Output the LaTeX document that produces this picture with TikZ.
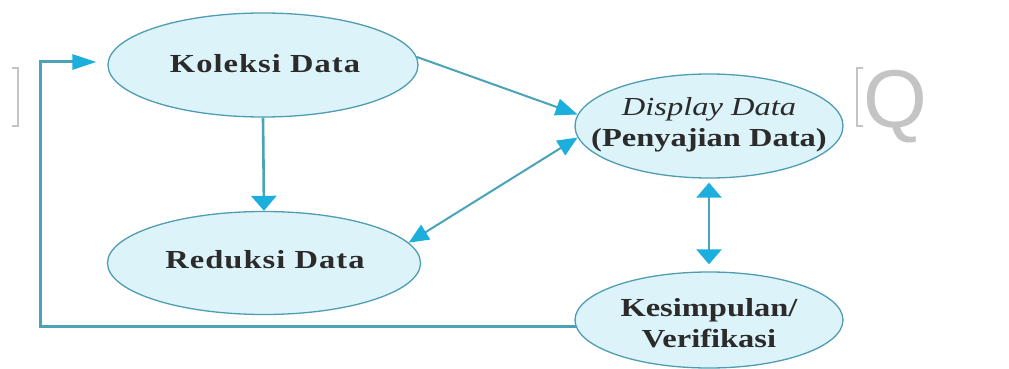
\documentclass[tikz,border=0pt]{standalone}
\usepackage{fontspec}
\setmainfont{Liberation Serif}
\newfontfamily\lblfont[FakeStretch=1.25]{Liberation Serif}
\newfontfamily\wmfont{Liberation Sans}
\usetikzlibrary{arrows.meta,shapes.geometric}
\definecolor{efill}{HTML}{DDF3FA}
\definecolor{edraw}{HTML}{4E9DB1}
\definecolor{shaft}{HTML}{4AA3B6}
\definecolor{headc}{HTML}{1CAFDD}
\definecolor{txt}{HTML}{2B2B2B}
\definecolor{wm}{HTML}{C4C4C4}
\tikzset{
  ell/.style={ellipse, draw=edraw, line width=1.3pt, fill=efill, inner sep=0pt},
  lbl/.style={text=txt, inner sep=0pt, align=center, font=\lblfont\bfseries\fontsize{26}{31}\selectfont},
  hhead/.style={-{Triangle[length=24pt,width=15pt,color=headc]}},
  vhead/.style={-{Triangle[length=15pt,width=25pt,color=headc]}},
  conn/.style={draw=shaft, line width=2pt},
  thick conn/.style={draw=shaft, line width=2.6pt}
}
\begin{document}
\begin{tikzpicture}[x=1pt,y=-1pt]
\useasboundingbox[fill=white] (0,0) rectangle (1009,369);
% watermark fragments
\draw[wm, line width=2pt] (12,68) -- (18,68) -- (18,126) -- (12,126);
\draw[wm, line width=2.2pt] (863,68) -- (857,68) -- (857,126) -- (863,126);
\node[wm, font=\wmfont\fontsize{82}{82}\selectfont, inner sep=0pt, anchor=base west] (wq) at (863,127) {Q};
% ellipses
\node[ell, minimum width=310pt, minimum height=104pt] (kol) at (263,65) {};
\node[ell, minimum width=268pt, minimum height=104pt] (dis) at (709,126) {};
\node[ell, minimum width=313pt, minimum height=103pt] (red) at (264,263) {};
\node[ell, minimum width=268pt, minimum height=96pt] (kes) at (709,320) {};
% labels
\node[lbl, anchor=base] (tkol) at (265,72) {\addfontfeature{LetterSpace=4}Koleksi Data};
\node[lbl, anchor=base] (tred) at (265,268) {\addfontfeature{LetterSpace=4}Reduksi Data};
\node[lbl] (tdis) at (709,125) {{\mdseries\itshape Display Data}\\(Penyajian Data)};
\node[lbl] (tkes) at (709,323) {Kesimpulan/\\Verifikasi};
% connectors
\coordinate (c1) at (40,62);
\draw[thick conn, vhead] (kol.south) -- (red.north);
\draw[conn, -{Triangle[length=22pt,width=17pt,color=headc]}] (kol.3) -- (dis.175);
\draw[conn, {Triangle[length=20pt,width=17pt,color=headc]}-{Triangle[length=20pt,width=17pt,color=headc]}] (dis.185) -- (red.8);
\draw[thick conn, {Triangle[length=15pt,width=25pt,color=headc]}-{Triangle[length=15pt,width=25pt,color=headc]}, shorten <=4pt, shorten >=7pt] (dis.south) -- (kes.north);
\draw[line width=3pt, draw=shaft, line join=miter, hhead, shorten >=11pt] (kes.183) -| (c1) -- (c1 -| kol.west);
\end{tikzpicture}
\end{document}
